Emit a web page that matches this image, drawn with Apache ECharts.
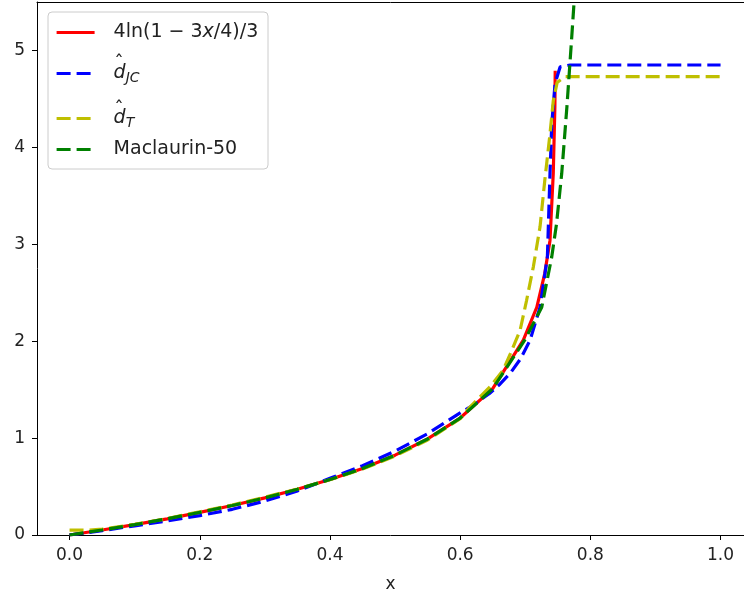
<!DOCTYPE html>
<html>
<head>
<meta charset="utf-8">
<script src="https://cdn.jsdelivr.net/npm/echarts@6/dist/echarts.min.js"></script>
<style>
  html, body { margin: 0; padding: 0; background: #fff; }
  #chart { width: 744px; height: 598px; }
</style>
</head>
<body>
<div id="chart"></div>
<script>
// values
const redX = [0, 0.05, 0.1, 0.15, 0.2, 0.25, 0.3, 0.35, 0.4, 0.45, 0.5, 0.55, 0.6, 0.65, 0.697, 0.7177, 0.73, 0.738, 0.743, 0.7455, 0.746];
const redY = [0, 0.052, 0.107, 0.167, 0.233, 0.304, 0.383, 0.472, 0.572, 0.687, 0.824, 0.991, 1.207, 1.511, 2.01, 2.35, 2.70, 3.04, 3.73, 4.42, 4.79];

const jcX = [0, 0.05, 0.1, 0.15, 0.2, 0.25, 0.3, 0.35, 0.4, 0.45, 0.5, 0.55, 0.6, 0.62, 0.645, 0.66, 0.677, 0.693, 0.7074, 0.7227, 0.734, 0.738, 0.7407, 0.7458, 0.7535, 0.769, 1.0];
const jcY = [0, 0.045, 0.095, 0.145, 0.2, 0.265, 0.35, 0.455, 0.585, 0.715, 0.865, 1.045, 1.26, 1.34, 1.46, 1.55, 1.67, 1.82, 2.01, 2.35, 2.87, 3.73, 4.24, 4.66, 4.83, 4.85, 4.85];

const tX = [0, 0.03, 0.05, 0.1, 0.15, 0.2, 0.25, 0.3, 0.35, 0.4, 0.45, 0.5, 0.55, 0.6, 0.615, 0.646, 0.666, 0.677, 0.692, 0.702, 0.7125, 0.7227, 0.73, 0.738, 0.743, 0.749, 0.761, 1.0];
const tY = [0.05, 0.05, 0.06, 0.11, 0.17, 0.24, 0.31, 0.39, 0.475, 0.57, 0.68, 0.815, 0.98, 1.2, 1.32, 1.53, 1.70, 1.87, 2.11, 2.42, 2.77, 3.18, 3.66, 4.14, 4.48, 4.67, 4.73, 4.73];

const macX = [0, 0.05, 0.1, 0.15, 0.2, 0.25, 0.3, 0.35, 0.4, 0.45, 0.5, 0.55, 0.6, 0.65, 0.7, 0.7253, 0.7407, 0.748, 0.756, 0.764, 0.771, 0.776];
const macY = [0, 0.052, 0.107, 0.167, 0.233, 0.304, 0.383, 0.472, 0.572, 0.687, 0.824, 0.991, 1.207, 1.51, 2.02, 2.35, 2.87, 3.21, 3.73, 4.42, 5.10, 5.6];

const xTicks = [0, 0.2, 0.4, 0.6, 0.8, 1.0];
const yTicks = [0, 1, 2, 3, 4, 5];

const pairs = (xs, ys) => xs.map((x, i) => [x, ys[i]]);

const chart = echarts.init(document.getElementById('chart'));
const font = 'DejaVu Sans';
const colors = { red: '#ff0000', jc: '#0000ff', t: '#bfbf00', mac: '#008000' };

const mathRich = {
    i: { fontFamily: font, fontStyle: 'italic', fontSize: 19, color: '#222', lineHeight: 24 },
    s: { fontFamily: font, fontStyle: 'italic', fontSize: 14, color: '#222', lineHeight: 12, verticalAlign: 'bottom' }
};

const labels = {
    red: '4ln(1 − 3{i|x}/4)/3',
    jc: '{i|d}{s|JC}',
    t: '{i|d}{s|T}',
    mac: 'Maclaurin-50'
};

function legendAt(name, top, dashed) {
    return {
        data: [name],
        left: 55,
        top: top,
        padding: 0,
        itemWidth: 38,
        itemHeight: 14,
        selectedMode: false,
        formatter: n => labels[n],
        itemStyle: { color: 'transparent', borderWidth: 0, opacity: 0 },
        lineStyle: { color: colors[name], width: 3.2, type: dashed ? [14, 6] : 'solid' },
        textStyle: {
            fontFamily: font,
            fontSize: 19,
            color: '#222',
            padding: [0, 0, 0, 14],
            rich: mathRich
        }
    };
}

function line(name, xs, ys, dashed) {
    return {
        name: name,
        type: 'line',
        data: pairs(xs, ys),
        symbol: 'none',
        clip: true,
        lineStyle: { color: colors[name], width: 3.2, type: dashed ? [14, 6] : 'solid' },
        itemStyle: { color: colors[name] }
    };
}

// hats over the two d's in the legend
function hat(y) {
    return {
        type: 'text', z: 5, x: 119, y: y,
        style: { text: '\u02C6', fontFamily: font, fontSize: 19, fill: '#222', align: 'center', verticalAlign: 'middle' }
    };
}

const xMin = -0.05, xMax = 1.036;

const option = {
    animation: false,
    backgroundColor: '#fff',
    grid: { left: 37, right: 0, top: 2, bottom: 63 },
    graphic: [
        {
            type: 'rect', z: 3,
            shape: { x: 48, y: 12, width: 220, height: 157, r: 4 },
            style: { fill: 'rgba(255,255,255,0.8)', stroke: '#cccccc', lineWidth: 1 }
        },
        hat(64),
        hat(110)
    ],
    legend: [
        legendAt('red', 23, false),
        legendAt('jc', 64, true),
        legendAt('t', 109, true),
        legendAt('mac', 140, true)
    ],
    xAxis: [{
        type: 'value',
        min: xMin,
        max: xMax,
        name: 'x',
        nameLocation: 'middle',
        nameGap: 41,
        nameTextStyle: { fontFamily: font, fontSize: 17, color: '#222' },
        splitLine: { show: false },
        axisLine: { onZero: false, lineStyle: { color: '#000', width: 1 } },
        axisTick: { show: true, length: 5, customValues: xTicks, lineStyle: { color: '#000' } },
        axisLabel: { customValues: xTicks, margin: 12, fontFamily: font, fontSize: 17, color: '#222', formatter: v => v.toFixed(1) }
    }, {
        type: 'value',
        position: 'top',
        min: xMin,
        max: xMax,
        splitLine: { show: false },
        axisLine: { show: true, onZero: false, lineStyle: { color: '#000', width: 1 } },
        axisTick: { show: false },
        axisLabel: { show: false }
    }],
    yAxis: {
        type: 'value',
        min: 0,
        max: 5.5,
        splitLine: { show: false },
        axisLine: { show: true, onZero: false, lineStyle: { color: '#000', width: 1 } },
        axisTick: { show: true, length: 5, customValues: yTicks, lineStyle: { color: '#000' } },
        axisLabel: { customValues: yTicks, margin: 12, fontFamily: font, fontSize: 17, color: '#222' }
    },
    series: [
        line('red', redX, redY, false),
        line('jc', jcX, jcY, true),
        line('t', tX, tY, true),
        line('mac', macX, macY, true)
    ]
};

chart.setOption(option);
window.addEventListener('resize', () => chart.resize());
</script>
</body>
</html>
